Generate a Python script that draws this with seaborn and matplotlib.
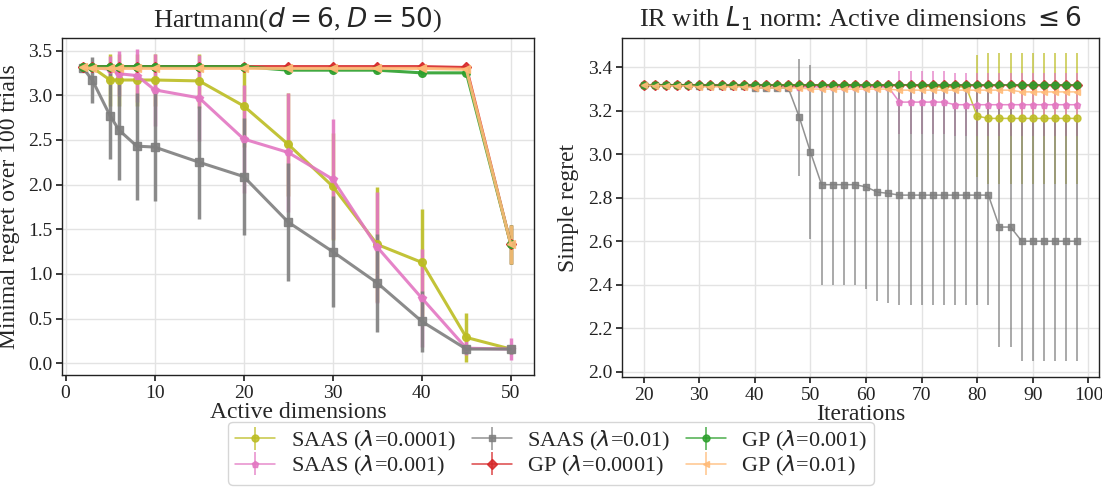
import numpy as np
import pandas as pd
import matplotlib
matplotlib.use("Agg")
import matplotlib.pyplot as plt
import seaborn as sns

# ---------------- data: left panel (Hartmann d=6, D=50) ----------------
active_dims = [2, 3, 5, 6, 8, 10, 15, 20, 25, 30, 35, 40, 45, 50]

saas_1e4_mean = [3.32, 3.31, 3.17, 3.17, 3.17, 3.17, 3.16, 2.88, 2.45, 1.98, 1.33, 1.13, 0.29, 0.16]
saas_1e4_err = [0.00, 0.00, 0.29, 0.29, 0.29, 0.29, 0.30, 0.46, 0.58, 0.60, 0.64, 0.60, 0.27, 0.05]
saas_1e3_mean = [3.32, 3.31, 3.29, 3.24, 3.22, 3.06, 2.97, 2.51, 2.36, 2.06, 1.30, 0.73, 0.17, 0.16]
saas_1e3_err = [0.00, 0.00, 0.15, 0.25, 0.30, 0.40, 0.48, 0.60, 0.67, 0.67, 0.62, 0.55, 0.08, 0.12]
saas_1e2_mean = [3.30, 3.17, 2.77, 2.61, 2.43, 2.42, 2.25, 2.09, 1.58, 1.25, 0.90, 0.47, 0.16, 0.16]
saas_1e2_err = [0.00, 0.26, 0.48, 0.56, 0.60, 0.60, 0.63, 0.65, 0.66, 0.62, 0.55, 0.34, 0.05, 0.05]
gp_1e4_mean = [3.32, 3.32, 3.32, 3.32, 3.32, 3.32, 3.32, 3.32, 3.32, 3.32, 3.32, 3.32, 3.31, 1.33]
gp_1e4_err = [0.00, 0.00, 0.00, 0.00, 0.00, 0.00, 0.00, 0.00, 0.00, 0.00, 0.00, 0.00, 0.00, 0.22]
gp_1e3_mean = [3.32, 3.32, 3.32, 3.32, 3.32, 3.32, 3.32, 3.32, 3.28, 3.28, 3.28, 3.25, 3.25, 1.33]
gp_1e3_err = [0.00, 0.00, 0.00, 0.00, 0.00, 0.00, 0.00, 0.00, 0.02, 0.02, 0.02, 0.02, 0.02, 0.22]
gp_1e2_mean = [3.31, 3.30, 3.30, 3.30, 3.30, 3.30, 3.30, 3.30, 3.30, 3.30, 3.30, 3.30, 3.29, 1.33]
gp_1e2_err = [0.00, 0.00, 0.00, 0.00, 0.00, 0.00, 0.00, 0.00, 0.00, 0.00, 0.00, 0.00, 0.00, 0.22]

# ---------------- data: right panel (IR with L1 norm) ----------------
iterations = [20, 22, 24, 26, 28, 30, 32, 34, 36, 38, 40, 42, 44, 46, 48, 50, 52, 54, 56, 58,
              60, 62, 64, 66, 68, 70, 72, 74, 76, 78, 80, 82, 84, 86, 88, 90, 92, 94, 96, 98]

ir_saas_1e4_mean = [3.32, 3.32, 3.32, 3.32, 3.32, 3.32, 3.32, 3.32, 3.32, 3.32,
                    3.32, 3.32, 3.32, 3.32, 3.32, 3.32, 3.32, 3.32, 3.32, 3.32,
                    3.32, 3.32, 3.32, 3.32, 3.32, 3.315, 3.31, 3.31, 3.31, 3.31,
                    3.176, 3.165, 3.165, 3.165, 3.165, 3.165, 3.165, 3.165, 3.165, 3.165]
ir_saas_1e4_err = [0, 0, 0, 0, 0, 0, 0, 0, 0, 0,
                   0, 0, 0, 0, 0, 0, 0, 0, 0, 0,
                   0, 0, 0, 0, 0, 0, 0, 0, 0, 0,
                   0.28, 0.30, 0.30, 0.30, 0.30, 0.30, 0.30, 0.30, 0.30, 0.30]
ir_saas_1e3_mean = [3.32, 3.32, 3.32, 3.32, 3.32, 3.32, 3.32, 3.32, 3.32, 3.32,
                    3.32, 3.32, 3.32, 3.31, 3.31, 3.31, 3.31, 3.31, 3.31, 3.31,
                    3.31, 3.31, 3.31, 3.24, 3.24, 3.24, 3.24, 3.24, 3.228, 3.228,
                    3.228, 3.228, 3.228, 3.228, 3.228, 3.228, 3.228, 3.228, 3.228, 3.228]
ir_saas_1e3_err = [0, 0, 0, 0, 0, 0, 0, 0, 0, 0,
                   0, 0, 0, 0, 0, 0, 0, 0, 0, 0,
                   0, 0, 0, 0.145, 0.145, 0.145, 0.145, 0.145, 0.145, 0.145,
                   0.145, 0.145, 0.145, 0.145, 0.145, 0.145, 0.145, 0.145, 0.145, 0.145]
ir_saas_1e2_mean = [3.32, 3.32, 3.32, 3.32, 3.32, 3.315, 3.315, 3.315, 3.315, 3.315,
                    3.305, 3.305, 3.305, 3.305, 3.17, 3.01, 2.86, 2.86, 2.86, 2.86,
                    2.85, 2.826, 2.82, 2.812, 2.812, 2.812, 2.812, 2.812, 2.812, 2.812,
                    2.812, 2.812, 2.665, 2.665, 2.60, 2.60, 2.60, 2.60, 2.60, 2.60]
ir_saas_1e2_err = [0, 0, 0, 0, 0, 0, 0, 0, 0, 0,
                   0, 0, 0, 0, 0.27, 0.40, 0.46, 0.46, 0.46, 0.46,
                   0.47, 0.50, 0.505, 0.505, 0.505, 0.505, 0.505, 0.505, 0.505, 0.505,
                   0.505, 0.505, 0.55, 0.55, 0.55, 0.55, 0.55, 0.55, 0.55, 0.55]
ir_gp_1e4_mean = [3.32, 3.32, 3.32, 3.32, 3.32, 3.32, 3.32, 3.32, 3.32, 3.32,
                  3.32, 3.32, 3.32, 3.32, 3.32, 3.32, 3.32, 3.32, 3.32, 3.32,
                  3.32, 3.32, 3.32, 3.32, 3.32, 3.32, 3.32, 3.32, 3.32, 3.32,
                  3.32, 3.32, 3.32, 3.32, 3.32, 3.32, 3.32, 3.32, 3.32, 3.32]
ir_gp_1e3_mean = [3.32, 3.32, 3.32, 3.32, 3.32, 3.32, 3.32, 3.32, 3.32, 3.32,
                  3.32, 3.32, 3.32, 3.32, 3.32, 3.32, 3.32, 3.32, 3.32, 3.32,
                  3.32, 3.32, 3.32, 3.32, 3.32, 3.32, 3.32, 3.32, 3.32, 3.32,
                  3.32, 3.32, 3.32, 3.32, 3.32, 3.32, 3.32, 3.32, 3.32, 3.32]
ir_gp_1e2_mean = [3.32, 3.315, 3.315, 3.315, 3.315, 3.31, 3.31, 3.31, 3.31, 3.31,
                  3.305, 3.305, 3.305, 3.305, 3.305, 3.30, 3.30, 3.30, 3.30, 3.30,
                  3.30, 3.30, 3.30, 3.295, 3.295, 3.295, 3.295, 3.295, 3.295, 3.295,
                  3.295, 3.295, 3.295, 3.295, 3.287, 3.287, 3.287, 3.287, 3.287, 3.287]

labels = [r"SAAS ($\lambda$=0.0001)", r"SAAS ($\lambda$=0.001)", r"SAAS ($\lambda$=0.01)",
          r"GP ($\lambda$=0.0001)", r"GP ($\lambda$=0.001)", r"GP ($\lambda$=0.01)"]

# ---------------- style ----------------
sns.set_theme(style="whitegrid")
plt.rcParams.update({
    "font.family": "serif",
    "font.serif": ["Liberation Serif", "DejaVu Serif"],
    "mathtext.fontset": "dejavusans",
    "axes.edgecolor": "#222222",
    "axes.linewidth": 1.0,
    "grid.color": "#e3e3e3",
    "grid.linewidth": 1.0,
    "xtick.bottom": True,
    "ytick.left": True,
    "xtick.major.size": 4,
    "ytick.major.size": 4,
    "xtick.color": "#222222",
    "ytick.color": "#222222",
})

colors = ["#bcbd22", "#e377c2", "#7f7f7f", "#d62728", "#2ca02c", "#ffbb78"]
markers = ["o", "p", "s", "D", "o", "<"]

fig = plt.figure(figsize=(11.02, 4.9), dpi=100)
W, H = 1102, 490
ax1 = fig.add_axes([62 / W, 1 - 375 / H, (534 - 62) / W, (375 - 38) / H])
ax2 = fig.add_axes([622 / W, 1 - 377 / H, (1099 - 622) / W, (377 - 38) / H])

left_means = [saas_1e4_mean, saas_1e3_mean, saas_1e2_mean, gp_1e4_mean, gp_1e3_mean, gp_1e2_mean]
left_errs = [saas_1e4_err, saas_1e3_err, saas_1e2_err, gp_1e4_err, gp_1e3_err, gp_1e2_err]

for m, e, c, mk, lab in zip(left_means, left_errs, colors, markers, labels):
    ax1.errorbar(active_dims, m, yerr=e, color=c, marker=mk, markersize=5.5,
                 linewidth=2.2, elinewidth=2.5, capsize=0, alpha=0.9, label=lab)

ax1.set_xlim(-0.4, 52.6)
ax1.set_ylim(-0.13, 3.64)
ax1.set_xticks([0, 10, 20, 30, 40, 50])
ax1.set_yticks([0.0, 0.5, 1.0, 1.5, 2.0, 2.5, 3.0, 3.5])
ax1.yaxis.set_major_formatter(matplotlib.ticker.FormatStrFormatter("%.1f"))
ax1.set_title(r"Hartmann($d=6$, $D=50$)", fontsize=19, pad=8)
ax1.set_xlabel("Active dimensions", fontsize=17, labelpad=0)
ax1.set_ylabel("Minimal regret over 100 trials", fontsize=17, labelpad=6)
ax1.tick_params(labelsize=14, pad=3)

zeros = [0.0 for _ in iterations]
right_means = [ir_saas_1e4_mean, ir_saas_1e3_mean, ir_saas_1e2_mean, ir_gp_1e4_mean, ir_gp_1e3_mean, ir_gp_1e2_mean]
right_errs = [ir_saas_1e4_err, ir_saas_1e3_err, ir_saas_1e2_err, zeros, zeros, zeros]
handles = []
for m, e, c, mk, lab in zip(right_means, right_errs, colors, markers, labels):
    h = ax2.errorbar(iterations, m, yerr=e, color=c, marker=mk, markersize=5,
                     linewidth=1.1, elinewidth=1.1, capsize=0, alpha=0.85, label=lab)
    handles.append(h)

ax2.set_xlim(16.1, 101.9)
ax2.set_ylim(1.975, 3.535)
ax2.set_xticks([20, 30, 40, 50, 60, 70, 80, 90, 100])
ax2.set_yticks([2.0, 2.2, 2.4, 2.6, 2.8, 3.0, 3.2, 3.4])
ax2.yaxis.set_major_formatter(matplotlib.ticker.FormatStrFormatter("%.1f"))
ax2.set_title(r"IR with $L_1$ norm: Active dimensions $\leq 6$", fontsize=19, pad=8)
ax2.set_xlabel("Iterations", fontsize=17, labelpad=0)
ax2.set_ylabel("Simple regret", fontsize=17, labelpad=6)
ax2.tick_params(labelsize=14, pad=3)

fig.legend(handles, labels, loc="upper center", ncol=3, bbox_to_anchor=(0.5, 1 - 422 / H),
           fontsize=16, frameon=True, handlelength=1.8, columnspacing=0.7,
           handletextpad=0.7, borderpad=0.3, labelspacing=0.05, borderaxespad=0.0)

fig.savefig("out.png", dpi=100)
